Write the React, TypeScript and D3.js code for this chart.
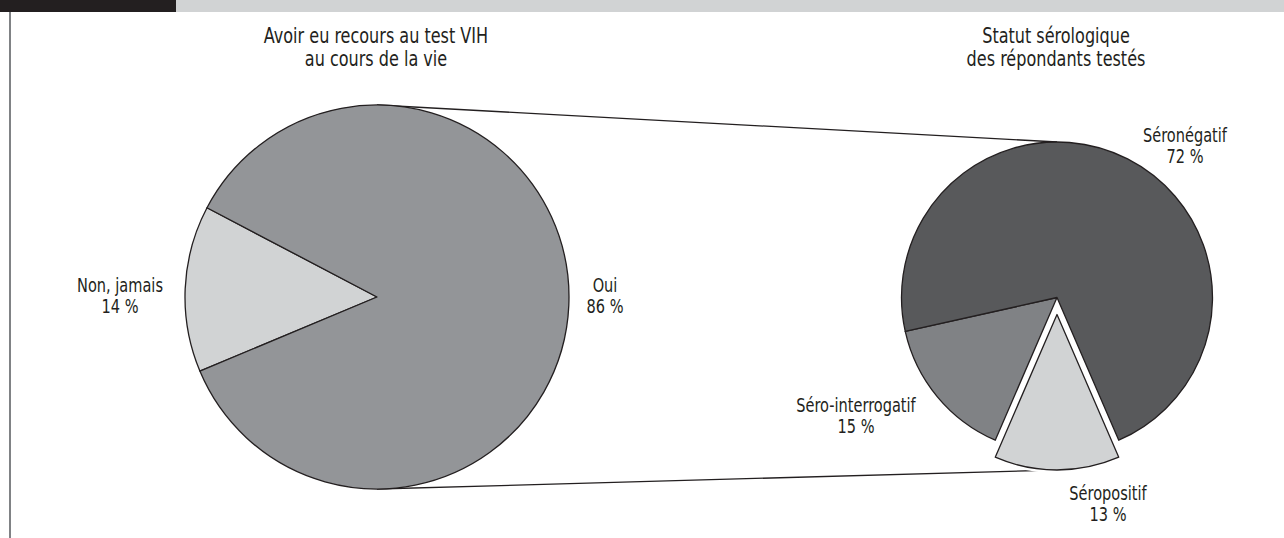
import React from "react";
import * as d3 from "d3";

const W = 1284;
const H = 538;

// Left pie: "Avoir eu recours au test VIH au cours de la vie"
const leftCategories = ["Non, jamais", "Oui"];
const leftValues = [14, 86];
const leftColors = ["#d1d3d4", "#939598"];

// Right pie: "Statut sérologique des répondants testés"
const rightCategories = ["Séropositif", "Séro-interrogatif", "Séronégatif"];
const rightValues = [13, 15, 72];
const rightColors = ["#d1d3d4", "#808285", "#58595b"];

const leftTitle = ["Avoir eu recours au test VIH", "au cours de la vie"];
const rightTitle = ["Statut sérologique", "des répondants testés"];

const FONT = "'Liberation Sans Narrow', 'DejaVu Sans Condensed', 'Arial Narrow', sans-serif";
const STROKE = "#231f20";
const SX = 0.83; // horizontal condensing to mimic the condensed typeface

export default function App() {
  const deg = Math.PI / 180;

  // left pie geometry
  const lc = { x: 377, y: 297 };
  const lr = 192;
  const lTotal = d3.sum(leftValues);
  const lStart = 272.5 * deg - (leftValues[0] / lTotal) * Math.PI;
  const leftPie = d3
    .pie<number>()
    .sort(null)
    .startAngle(lStart)
    .endAngle(lStart + 2 * Math.PI)(leftValues);
  const leftArc = d3.arc<d3.PieArcDatum<number>>().innerRadius(0).outerRadius(lr);

  // right pie geometry
  const rc = { x: 1057, y: 297.5 };
  const rr = 155.5;
  const rTotal = d3.sum(rightValues);
  const rStart = Math.PI - (rightValues[0] / rTotal) * Math.PI;
  const rightPie = d3
    .pie<number>()
    .sort(null)
    .startAngle(rStart)
    .endAngle(rStart + 2 * Math.PI)(rightValues);
  const rightArc = d3.arc<d3.PieArcDatum<number>>().innerRadius(0).outerRadius(rr);
  const explode = 17;
  const explodedIndex = 0;
  const exMid = (rightPie[explodedIndex].startAngle + rightPie[explodedIndex].endAngle) / 2;
  const exDx = explode * Math.sin(exMid);
  const exDy = -explode * Math.cos(exMid);

  const leftLabelPos = [
    { x: 120, y: 292 },
    { x: 605, y: 292 },
  ];
  const rightLabelPos = [
    { x: 1108, y: 500 },
    { x: 856, y: 412 },
    { x: 1185, y: 142 },
  ];

  const labelSize = 19.5;
  const lineGap = 21;

  const block = (lines: string[], x: number, y: number, size: number, gap: number, key: string) => (
    <g key={key} transform={`translate(${x},${y}) scale(${SX},1)`}>
      {lines.map((t, i) => (
        <text key={i} x={0} y={i * gap} textAnchor="middle" fontFamily={FONT} fontSize={size} fill="#231f20">
          {t}
        </text>
      ))}
    </g>
  );

  return (
    <svg width={W} height={H} style={{ position: "absolute", left: 0, top: 0, background: "#fff" }}>
      {/* header bar */}
      <rect x={0} y={0} width={176} height={12} fill="#231f20" />
      <rect x={176} y={0} width={W - 176} height={12} fill="#d1d3d4" />
      <rect x={9} y={12} width={2} height={H - 12} fill="#808285" />

      {/* titles */}
      {block(leftTitle, 376, 43, 21.5, 23.5, "lt")}
      {block(rightTitle, 1056, 43, 21.5, 23.5, "rt")}

      {/* connector lines */}
      <line x1={lc.x} y1={lc.y - lr} x2={rc.x} y2={rc.y - rr} stroke={STROKE} strokeWidth={1.3} />
      <line x1={lc.x} y1={lc.y + lr} x2={rc.x + exDx} y2={rc.y + exDy + rr} stroke={STROKE} strokeWidth={1.3} />

      {/* left pie */}
      <g transform={`translate(${lc.x},${lc.y})`}>
        {leftPie.map((d, i) => (
          <path key={"lp" + i} d={leftArc(d) || ""} fill={leftColors[i]} stroke={STROKE} strokeWidth={1.3} strokeLinejoin="round" />
        ))}
      </g>

      {/* right pie */}
      <g transform={`translate(${rc.x},${rc.y})`}>
        {rightPie.map((d, i) =>
          i === explodedIndex ? null : (
            <path key={"rp" + i} d={rightArc(d) || ""} fill={rightColors[i]} stroke={STROKE} strokeWidth={1.3} strokeLinejoin="round" />
          )
        )}
        <g transform={`translate(${exDx},${exDy})`}>
          <path d={rightArc(rightPie[explodedIndex]) || ""} fill="none" stroke="#ffffff" strokeWidth={6} strokeLinejoin="miter" />
          <path d={rightArc(rightPie[explodedIndex]) || ""} fill={rightColors[explodedIndex]} stroke={STROKE} strokeWidth={1.3} strokeLinejoin="round" />
        </g>
      </g>

      {/* labels */}
      {leftCategories.map((c, i) =>
        block([c, `${leftValues[i]} %`], leftLabelPos[i].x, leftLabelPos[i].y, labelSize, lineGap, "ll" + i)
      )}
      {rightCategories.map((c, i) =>
        block([c, `${rightValues[i]} %`], rightLabelPos[i].x, rightLabelPos[i].y, labelSize, lineGap, "rl" + i)
      )}
    </svg>
  );
}
